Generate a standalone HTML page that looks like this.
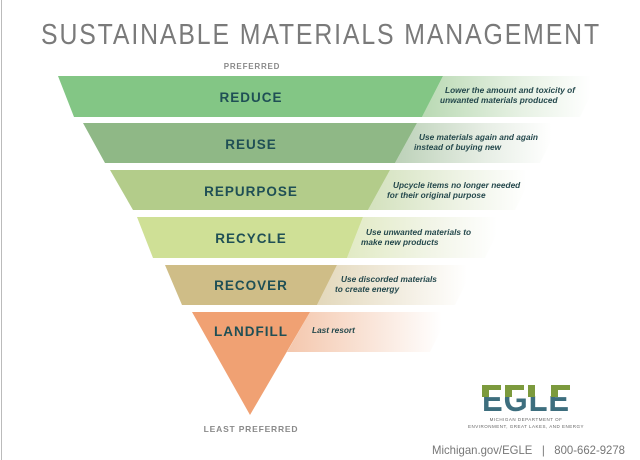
<!DOCTYPE html>
<html><head><meta charset="utf-8"><style>
html,body{margin:0;padding:0;background:#fff;}
svg{display:block;}
</style></head><body>
<svg width="640" height="460" viewBox="0 0 640 460" xmlns="http://www.w3.org/2000/svg" font-family="Liberation Sans, sans-serif">
<defs>
<linearGradient id="g1" x1="0" x2="1"><stop offset="0" stop-color="#b9d9b3"/><stop offset="0.55" stop-color="#e6f1e3"/><stop offset="0.95" stop-color="#fff"/></linearGradient>
<linearGradient id="g2" x1="0" x2="1"><stop offset="0" stop-color="#bcd1b8"/><stop offset="0.55" stop-color="#e7eee5"/><stop offset="0.95" stop-color="#fff"/></linearGradient>
<linearGradient id="g3" x1="0" x2="1"><stop offset="0" stop-color="#d3e1bd"/><stop offset="0.55" stop-color="#eef3e5"/><stop offset="0.95" stop-color="#fff"/></linearGradient>
<linearGradient id="g4" x1="0" x2="1"><stop offset="0" stop-color="#e1eac4"/><stop offset="0.55" stop-color="#f2f5e8"/><stop offset="0.95" stop-color="#fff"/></linearGradient>
<linearGradient id="g5" x1="0" x2="1"><stop offset="0" stop-color="#e3d8bb"/><stop offset="0.55" stop-color="#f3eee2"/><stop offset="0.95" stop-color="#fff"/></linearGradient>
<linearGradient id="g6" x1="0" x2="1"><stop offset="0" stop-color="#f4c7ad"/><stop offset="0.55" stop-color="#fae7dc"/><stop offset="0.95" stop-color="#fff"/></linearGradient>
</defs>
<line x1="1.5" y1="0" x2="1.5" y2="460" stroke="#bbb" stroke-width="1"/>
<text x="321" y="44" text-anchor="middle" font-size="29" fill="#7a7a7a" letter-spacing="2.2" textLength="560" lengthAdjust="spacingAndGlyphs">SUSTAINABLE MATERIALS MANAGEMENT</text>
<text x="252" y="69" text-anchor="middle" font-size="8" font-weight="bold" fill="#8a8a8a" letter-spacing="0.8">PREFERRED</text>

<polygon points="443,76 600,76 580,117 422,117" fill="url(#g1)"/>
<polygon points="417,123 560,123 540,163 395,163" fill="url(#g2)"/>
<polygon points="390,170 535,170 515,210 368,210" fill="url(#g3)"/>
<polygon points="363,217 505,217 485,258 347,258" fill="url(#g4)"/>
<polygon points="337,265 475,265 455,305 317,305" fill="url(#g5)"/>
<polygon points="310,312 450,312 430,352 287,352" fill="url(#g6)"/>

<polygon points="58,76 443,76 422,117 74,117" fill="#83c685"/>
<polygon points="83,123 417,123 395,163 105,163" fill="#8fb886"/>
<polygon points="110,170 390,170 368,210 133,210" fill="#b3cc8a"/>
<polygon points="137,217 363,217 347,258 153,258" fill="#cfe096"/>
<polygon points="165,265 337,265 317,305 182,305" fill="#cfbd87"/>
<polygon points="192,312 310,312 250,415" fill="#f0a173"/>

<g font-weight="bold" font-size="13.5" fill="#1f4f55" text-anchor="middle" letter-spacing="1">
<text x="251" y="102">REDUCE</text>
<text x="251" y="149">REUSE</text>
<text x="251" y="196">REPURPOSE</text>
<text x="251" y="243">RECYCLE</text>
<text x="251" y="290">RECOVER</text>
<text x="251" y="336">LANDFILL</text>
</g>
<g font-weight="bold" font-style="italic" font-size="8.3" fill="#24484c">
<text x="445" y="93">Lower the amount and toxicity of</text>
<text x="440" y="103">unwanted materials produced</text>
<text x="419" y="140">Use materials again and again</text>
<text x="414" y="150">instead of buying new</text>
<text x="393" y="188">Upcycle items no longer needed</text>
<text x="387" y="198">for their original purpose</text>
<text x="366" y="235">Use unwanted materials to</text>
<text x="361" y="245">make new products</text>
<text x="341" y="282">Use discorded materials</text>
<text x="335" y="292">to create energy</text>
<text x="312" y="333">Last resort</text>
</g>
<text x="251" y="432" text-anchor="middle" font-size="8.5" font-weight="bold" fill="#8a8a8a" letter-spacing="0.8">LEAST PREFERRED</text>

<g font-weight="bold" font-size="34" text-anchor="middle">
<text x="526" y="411" fill="#3d6e7e" textLength="88" lengthAdjust="spacingAndGlyphs" letter-spacing="1">EGLE</text>
</g>
<rect x="480" y="384" width="92" height="12" fill="#fff"/>
<g fill="#7c9a3d">
<rect x="482" y="385" width="19" height="5"/><rect x="482" y="385" width="7" height="12"/>
<rect x="505" y="385" width="19" height="5"/><rect x="505" y="385" width="7" height="12"/>
<rect x="528" y="385" width="7" height="12"/>
<rect x="551" y="385" width="19" height="5"/><rect x="551" y="385" width="7" height="12"/>
</g>
<text x="526" y="421" text-anchor="middle" font-size="4.5" fill="#666" letter-spacing="0.5">MICHIGAN DEPARTMENT OF</text>
<text x="526" y="428" text-anchor="middle" font-size="4.5" fill="#666" letter-spacing="0.5">ENVIRONMENT, GREAT LAKES, AND ENERGY</text>
<text x="432" y="454" font-size="12" fill="#777" textLength="193" lengthAdjust="spacingAndGlyphs" xml:space="preserve">Michigan.gov/EGLE   |   800-662-9278</text>
</svg>
</body></html>
